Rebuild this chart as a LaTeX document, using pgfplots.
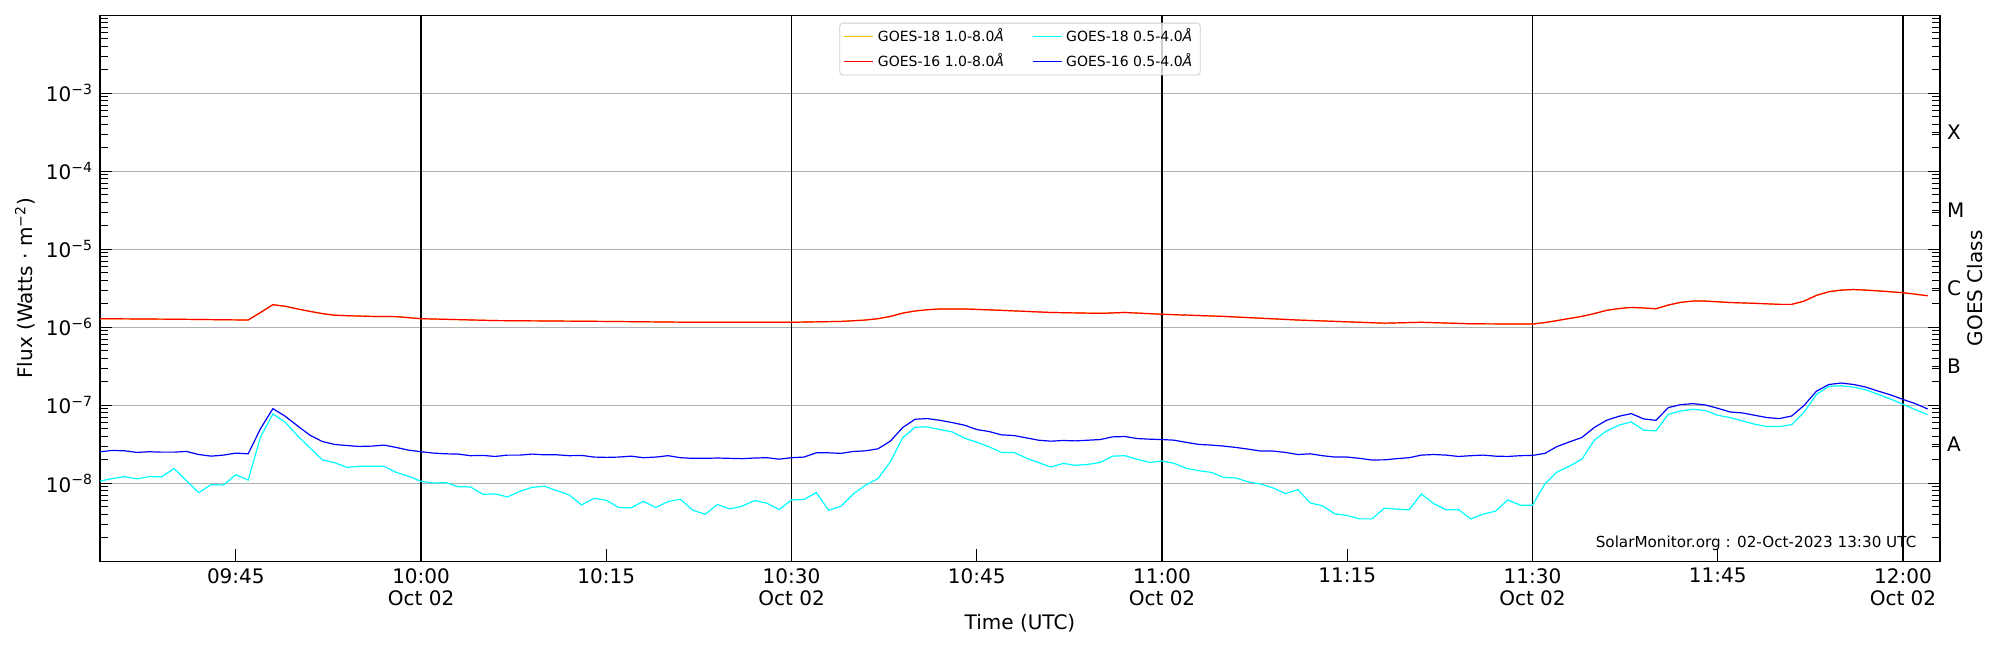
\documentclass[border=0pt]{standalone}
\usepackage{fontspec}
\setmainfont{DejaVu Sans}
\usepackage{pgfplots}
\pgfplotsset{compat=1.18}
\usepackage{pgfplotstable}

\pgfplotstableread{
t v
34 1.29e-6
40 1.27e-6
46 1.24e-6
47 1.55e-6
48 1.95e-6
49 1.86e-6
50 1.72e-6
51 1.60e-6
52 1.50e-6
53 1.43e-6
54 1.41e-6
56 1.38e-6
58 1.37e-6
60 1.29e-6
66 1.22e-6
75 1.19e-6
82 1.16e-6
90 1.16e-6
94 1.19e-6
96 1.24e-6
97 1.29e-6
98 1.38e-6
99 1.52e-6
100 1.62e-6
101 1.68e-6
102 1.72e-6
104 1.72e-6
107 1.65e-6
111 1.55e-6
115 1.51e-6
117 1.55e-6
120 1.47e-6
125 1.38e-6
131 1.24e-6
138 1.13e-6
141 1.16e-6
145 1.11e-6
150 1.10e-6
151 1.15e-6
152 1.22e-6
153 1.30e-6
154 1.38e-6
155 1.50e-6
156 1.65e-6
157 1.74e-6
158 1.80e-6
159 1.77e-6
160 1.73e-6
161 1.93e-6
162 2.09e-6
163 2.17e-6
164 2.17e-6
166 2.08e-6
168 2.03e-6
170 1.97e-6
171 1.97e-6
172 2.17e-6
173 2.57e-6
174 2.86e-6
175 3.00e-6
176 3.05e-6
177 3.00e-6
178 2.93e-6
180 2.78e-6
182 2.54e-6
}\longtab

\pgfplotstableread{
t b c
34 2.54e-8 1.07e-8
35 2.64e-8 1.15e-8
36 2.61e-8 1.22e-8
37 2.49e-8 1.14e-8
38 2.54e-8 1.22e-8
39 2.51e-8 1.21e-8
40 2.51e-8 1.55e-8
41 2.56e-8 1.08e-8
42 2.34e-8 7.60e-9
43 2.23e-8 9.62e-9
44 2.30e-8 9.52e-9
45 2.44e-8 1.29e-8
46 2.39e-8 1.10e-8
47 5.03e-8 3.94e-8
48 9.06e-8 7.75e-8
49 7.24e-8 6.07e-8
50 5.45e-8 4.06e-8
51 4.14e-8 2.85e-8
52 3.44e-8 2.00e-8
53 3.15e-8 1.84e-8
54 3.05e-8 1.60e-8
55 2.97e-8 1.65e-8
56 3.00e-8 1.66e-8
57 3.09e-8 1.65e-8
58 2.88e-8 1.38e-8
59 2.66e-8 1.23e-8
60 2.54e-8 1.06e-8
61 2.44e-8 1.01e-8
62 2.39e-8 1.02e-8
63 2.37e-8 9.06e-9
64 2.26e-8 8.98e-9
65 2.28e-8 7.24e-9
66 2.21e-8 7.31e-9
67 2.30e-8 6.69e-9
68 2.30e-8 7.90e-9
69 2.37e-8 8.89e-9
70 2.32e-8 9.16e-9
71 2.32e-8 8.06e-9
72 2.26e-8 7.10e-9
73 2.28e-8 5.29e-9
74 2.17e-8 6.43e-9
75 2.15e-8 6.07e-9
76 2.17e-8 4.89e-9
77 2.23e-8 4.84e-9
78 2.13e-8 5.89e-9
79 2.17e-8 4.89e-9
80 2.26e-8 5.83e-9
81 2.13e-8 6.25e-9
82 2.09e-8 4.52e-9
83 2.09e-8 4.02e-9
84 2.11e-8 5.34e-9
85 2.09e-8 4.70e-9
86 2.07e-8 5.09e-9
87 2.11e-8 6.01e-9
88 2.13e-8 5.56e-9
89 2.04e-8 4.61e-9
90 2.13e-8 6.12e-9
91 2.17e-8 6.19e-9
92 2.46e-8 7.60e-9
93 2.46e-8 4.52e-9
94 2.42e-8 5.09e-9
95 2.56e-8 7.31e-9
96 2.61e-8 9.52e-9
97 2.77e-8 1.15e-8
98 3.47e-8 1.89e-8
99 5.19e-8 3.83e-8
100 6.63e-8 5.24e-8
101 6.76e-8 5.29e-8
102 6.43e-8 4.89e-8
103 6.01e-8 4.57e-8
104 5.56e-8 3.79e-8
105 4.89e-8 3.37e-8
106 4.61e-8 2.94e-8
107 4.18e-8 2.49e-8
108 4.10e-8 2.49e-8
109 3.83e-8 2.11e-8
110 3.57e-8 1.84e-8
111 3.47e-8 1.62e-8
112 3.54e-8 1.80e-8
113 3.50e-8 1.70e-8
114 3.57e-8 1.75e-8
115 3.64e-8 1.85e-8
116 3.94e-8 2.23e-8
117 3.98e-8 2.26e-8
118 3.75e-8 2.03e-8
119 3.68e-8 1.85e-8
120 3.64e-8 1.93e-8
121 3.57e-8 1.80e-8
122 3.34e-8 1.55e-8
123 3.15e-8 1.45e-8
124 3.09e-8 1.38e-8
125 3.00e-8 1.19e-8
126 2.88e-8 1.17e-8
127 2.74e-8 1.04e-8
128 2.59e-8 9.80e-9
129 2.59e-8 8.72e-9
130 2.49e-8 7.38e-9
131 2.34e-8 8.30e-9
132 2.39e-8 5.61e-9
133 2.26e-8 5.14e-9
134 2.17e-8 4.06e-9
135 2.17e-8 3.87e-9
136 2.09e-8 3.50e-9
137 1.99e-8 3.50e-9
138 2.00e-8 4.80e-9
139 2.07e-8 4.66e-9
140 2.13e-8 4.57e-9
141 2.30e-8 7.31e-9
142 2.34e-8 5.50e-9
143 2.30e-8 4.57e-9
144 2.21e-8 4.61e-9
145 2.26e-8 3.50e-9
146 2.30e-8 4.02e-9
147 2.23e-8 4.39e-9
148 2.21e-8 6.12e-9
149 2.26e-8 5.24e-9
150 2.28e-8 5.24e-9
151 2.42e-8 9.80e-9
152 2.97e-8 1.40e-8
153 3.40e-8 1.66e-8
154 3.87e-8 2.04e-8
155 5.19e-8 3.57e-8
156 6.43e-8 4.70e-8
157 7.24e-8 5.56e-8
158 7.83e-8 6.13e-8
159 6.69e-8 4.80e-8
160 6.43e-8 4.70e-8
161 9.34e-8 7.68e-8
162 1.02e-7 8.46e-8
163 1.05e-7 8.89e-8
164 1.01e-7 8.55e-8
165 9.16e-8 7.45e-8
166 8.22e-8 6.96e-8
167 7.98e-8 6.31e-8
168 7.45e-8 5.72e-8
169 6.96e-8 5.34e-8
170 6.76e-8 5.34e-8
171 7.31e-8 5.66e-8
172 1.00e-7 8.22e-8
173 1.52e-7 1.38e-7
174 1.85e-7 1.75e-7
175 1.93e-7 1.78e-7
176 1.85e-7 1.71e-7
177 1.71e-7 1.58e-7
178 1.52e-7 1.38e-7
179 1.36e-7 1.20e-7
180 1.19e-7 1.03e-7
181 1.05e-7 8.80e-8
182 8.98e-8 7.60e-8
}\shorttab

\definecolor{goldline}{RGB}{255,192,0}
\definecolor{cyanline}{RGB}{0,255,255}
\definecolor{redline}{RGB}{255,0,0}
\definecolor{blueline}{RGB}{0,0,255}
\definecolor{gridgray}{RGB}{176,176,176}

\begin{document}
\begin{tikzpicture}
\path[use as bounding box] (-50pt,-44.35pt) rectangle (950pt,280.65pt);
\begin{axis}[
  scale only axis, width=920pt, height=273pt,
  ymode=log, xmin=34, xmax=183, ymin=1e-9, ymax=1e-2,
  ytick={1e-9,1e-8,1e-7,1e-6,1e-5,1e-4,1e-3,1e-2},
  minor ytick={2e-9,3e-9,4e-9,5e-9,6e-9,7e-9,8e-9,9e-9,
    2e-8,3e-8,4e-8,5e-8,6e-8,7e-8,8e-8,9e-8,
    2e-7,3e-7,4e-7,5e-7,6e-7,7e-7,8e-7,9e-7,
    2e-6,3e-6,4e-6,5e-6,6e-6,7e-6,8e-6,9e-6,
    2e-5,3e-5,4e-5,5e-5,6e-5,7e-5,8e-5,9e-5,
    2e-4,3e-4,4e-4,5e-4,6e-4,7e-4,8e-4,9e-4,
    2e-3,3e-3,4e-3,5e-3,6e-3,7e-3,8e-3,9e-3},
  tick align=inside,
  major tick length=6pt, minor tick length=4pt,
  every tick/.append style={black, line width=0.5pt},
  tick label style={font=\fontsize{10}{11}\selectfont},
  label style={font=\fontsize{10}{12}\selectfont},
  axis line style={line width=0.6pt},
  tick pos=left,
  yticklabels={,10\textsuperscript{−8},10\textsuperscript{−7},10\textsuperscript{−6},10\textsuperscript{−5},10\textsuperscript{−4},10\textsuperscript{−3},},
  xtick={45,60,75,90,105,120,135,150,165,180},
  xticklabels={09:45,10:00\\Oct 02,10:15,10:30\\Oct 02,10:45,11:00\\Oct 02,11:15,11:30\\Oct 02,11:45,12:00\\Oct 02},
  xticklabel style={align=center},
  ymajorgrids=true,
  major grid style={color=gridgray, line width=0.5pt},
  extra x ticks={60,90,120,150,180},
  extra x tick labels={},
  extra x tick style={xmajorgrids=true, major grid style={black, line width=0.6pt}},
  xlabel={Time (UTC)},
  xlabel style={at={(axis description cs:0.5,-0.1128)}, anchor=center},
  ylabel={Flux (Watts · m\textsuperscript{−2})},
  ylabel style={at={(axis description cs:-0.04076,0.5)}, anchor=center},
  legend columns=2,
  legend cell align=left,
  legend style={at={(0.5,0.9864)}, anchor=north,
    font=\fontsize{7}{8}\selectfont,
    draw=black!20, rounded corners=1.5pt, fill=white, fill opacity=0.8, text opacity=1,
    inner xsep=2pt, inner ysep=0.8pt,
    row sep=0.3pt,
    /tikz/every even column/.append style={column sep=12pt}},
  legend image code/.code={\draw[#1] (0pt,0pt) -- (14.5pt,0pt);},
]
\addplot[goldline, line width=0.6pt] table[x=t, y=v] {\longtab};
\addlegendentry{GOES-18 1.0-8.0\textit{Å}}
\addplot[cyanline, line width=0.6pt] table[x=t, y=c] {\shorttab};
\addlegendentry{GOES-18 0.5-4.0\textit{Å}}
\addplot[redline, line width=0.6pt] table[x=t, y=v] {\longtab};
\addlegendentry{GOES-16 1.0-8.0\textit{Å}}
\addplot[blueline, line width=0.6pt] table[x=t, y=b] {\shorttab};
\addlegendentry{GOES-16 0.5-4.0\textit{Å}}
\node[anchor=east, font=\fontsize{7.6}{9}\selectfont] at (axis description cs:0.991,0.033) {SolarMonitor.org : 02-Oct-2023 13:30 UTC};
\end{axis}
\begin{axis}[
  scale only axis, width=920pt, height=273pt,
  ymode=log, xmin=34, xmax=183, ymin=1e-9, ymax=1e-2,
  ytick={1e-9,1e-8,1e-7,1e-6,1e-5,1e-4,1e-3,1e-2},
  minor ytick={2e-9,3e-9,4e-9,5e-9,6e-9,7e-9,8e-9,9e-9,
    2e-8,3e-8,4e-8,5e-8,6e-8,7e-8,8e-8,9e-8,
    2e-7,3e-7,4e-7,5e-7,6e-7,7e-7,8e-7,9e-7,
    2e-6,3e-6,4e-6,5e-6,6e-6,7e-6,8e-6,9e-6,
    2e-5,3e-5,4e-5,5e-5,6e-5,7e-5,8e-5,9e-5,
    2e-4,3e-4,4e-4,5e-4,6e-4,7e-4,8e-4,9e-4,
    2e-3,3e-3,4e-3,5e-3,6e-3,7e-3,8e-3,9e-3},
  tick align=inside,
  major tick length=6pt, minor tick length=4pt,
  every tick/.append style={black, line width=0.5pt},
  tick label style={font=\fontsize{10}{11}\selectfont},
  axis line style={line width=0.6pt},
  axis x line=none,
  axis y line*=right,
  yticklabels={},
  extra y ticks={3.1623e-8,3.1623e-7,3.1623e-6,3.1623e-5,3.1623e-4},
  extra y tick labels={A,B,C,M,X},
  extra y tick style={major tick length=4pt},
]
\end{axis}
\node[rotate=90, anchor=center, font=\fontsize{10}{12}\selectfont] at (937.5pt,136.5pt) {GOES Class};
\end{tikzpicture}
\end{document}
